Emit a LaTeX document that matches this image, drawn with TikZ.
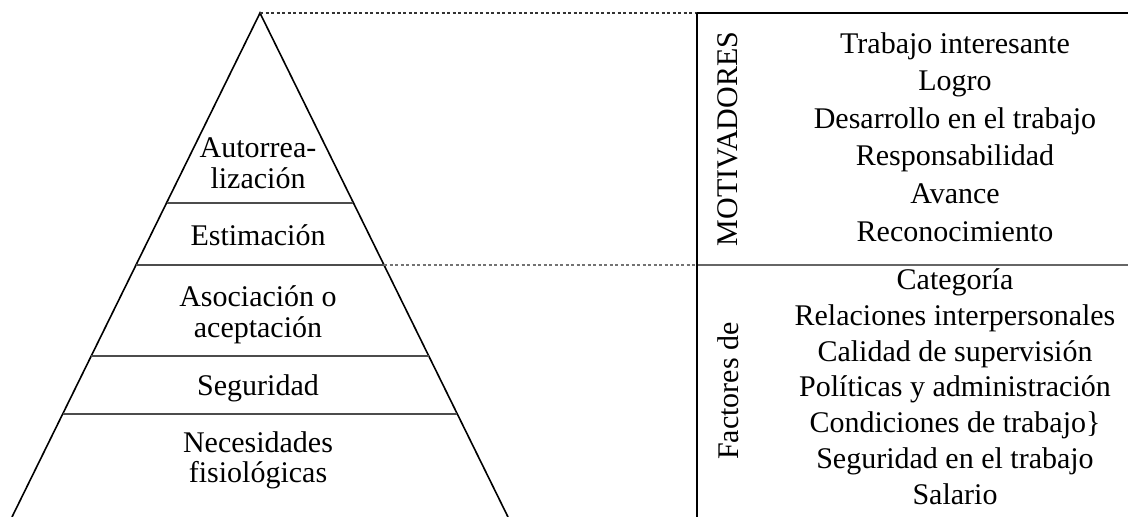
\documentclass[tikz,border=0pt]{standalone}
\usepackage{fontspec}
\setmainfont{Liberation Serif}
\usetikzlibrary{calc}
\begin{document}
\begin{tikzpicture}[x=1pt,y=-1pt,
  txt/.style={font=\fontsize{30}{36}\selectfont, inner sep=0pt, anchor=base},
  vtxt/.style={font=\fontsize{30}{36}\selectfont, inner sep=0pt, rotate=90},
  edge/.style={line width=1.6pt, black},
  level/.style={line width=1.2pt, black!70},
  dashline/.style={line width=1.1pt, dash pattern=on 3pt off 2.5pt},
  rule/.style={line width=1.2pt}]
\useasboundingbox (0,0) rectangle (1128,517);
% pyramid
\coordinate (apex) at (260,13);
\coordinate (bl) at (12,517);
\coordinate (br) at (508,517);
\draw[edge] (bl) -- (apex) -- (br);
\coordinate (l1) at ($(apex)!0.377!(bl)$);
\coordinate (r1) at ($(apex)!0.377!(br)$);
\coordinate (l2) at ($(apex)!0.5!(bl)$);
\coordinate (r2) at ($(apex)!0.5!(br)$);
\coordinate (l3) at ($(apex)!0.6806!(bl)$);
\coordinate (r3) at ($(apex)!0.6806!(br)$);
\coordinate (l4) at ($(apex)!0.7956!(bl)$);
\coordinate (r4) at ($(apex)!0.7956!(br)$);
\draw[level] (l1) -- (r1);
\draw[level] (l2) -- (r2);
\draw[level] (l3) -- (r3);
\draw[level] (l4) -- (r4);
% table lines
\coordinate (vtop) at (697,13);
\coordinate (vmid) at (697,265);
\coordinate (vbot) at (697,517);
\coordinate (rtop) at (1128,13);
\coordinate (rmid) at (1128,265);
\draw[dashline, black!80] (apex) -- (vtop);
\draw[dashline, black!55] (r2) -- (vmid);
\draw[rule, black] (vtop) -- (rtop);
\draw[rule, black!60] (vmid) -- (rmid);
\draw[rule, black] (vtop) -- (vbot);
% pyramid texts
\node[txt] (p1a) at (258,157) {Autorrea-};
\node[txt] (p1b) at (258,188) {lización};
\node[txt] (p2) at (258,245) {Estimación};
\node[txt] (p3a) at (258,306) {Asociación o};
\node[txt] (p3b) at (258,337) {aceptación};
\node[txt] (p4) at (258,395) {Seguridad};
\node[txt] (p5a) at (258,452) {Necesidades};
\node[txt] (p5b) at (258,482) {fisiológicas};
% vertical labels
\node[vtxt] (mot) at (728,139) {MOTIVADORES};
\node[vtxt] (fac) at (728,391) {Factores de};
% right column
\node[txt] (m1) at (955,53) {Trabajo interesante};
\node[txt] (m2) at (955,90.6) {Logro};
\node[txt] (m3) at (955,128.2) {Desarrollo en el trabajo};
\node[txt] (m4) at (955,165.8) {Responsabilidad};
\node[txt] (m5) at (955,203.4) {Avance};
\node[txt] (m6) at (955,241) {Reconocimiento};
\node[txt] (f1) at (955,289) {Categoría};
\node[txt] (f2) at (955,325) {Relaciones interpersonales};
\node[txt] (f3) at (955,361) {Calidad de supervisión};
\node[txt] (f4) at (955,396) {Políticas y administración};
\node[txt] (f5) at (955,432) {Condiciones de trabajo\}};
\node[txt] (f6) at (955,468) {Seguridad en el trabajo};
\node[txt] (f7) at (955,504) {Salario};
\end{tikzpicture}
\end{document}
